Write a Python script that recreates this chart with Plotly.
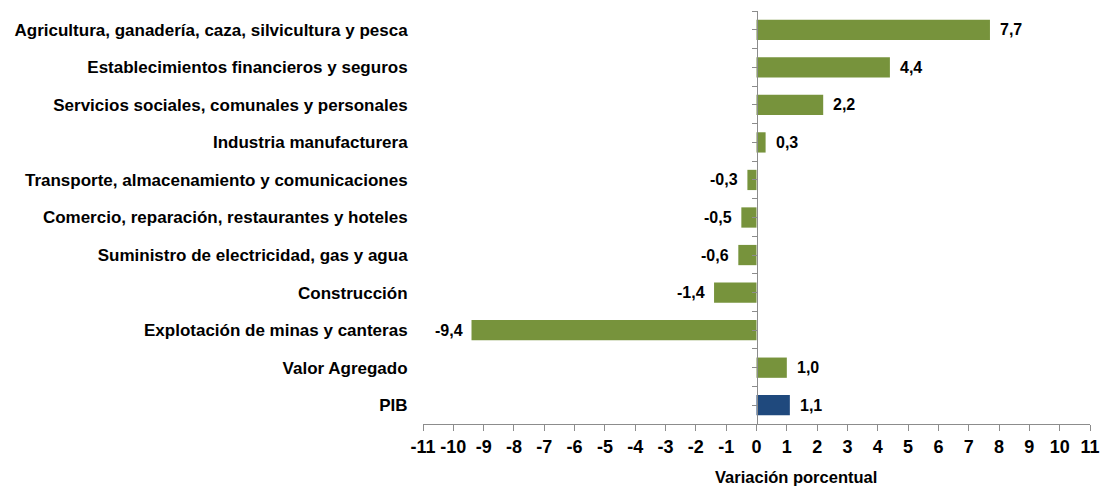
import plotly.graph_objects as go

categories = [
    "Agricultura, ganadería, caza, silvicultura y pesca",
    "Establecimientos financieros y seguros",
    "Servicios sociales, comunales y personales",
    "Industria manufacturera",
    "Transporte, almacenamiento y comunicaciones",
    "Comercio, reparación, restaurantes y hoteles",
    "Suministro de electricidad, gas y agua",
    "Construcción",
    "Explotación de minas y canteras",
    "Valor Agregado",
    "PIB",
]
values = [7.7, 4.4, 2.2, 0.3, -0.3, -0.5, -0.6, -1.4, -9.4, 1.0, 1.1]
colors = ["#77933C"] * 10 + ["#1F497D"]
x_ticks = list(range(-11, 12))
x_title = "Variación porcentual"

FONT = "Liberation Sans, Arial, sans-serif"
n = len(categories)

def fmt(v):
    return f"{v:.1f}".replace(".", ",")

fig = go.Figure()
fig.add_trace(go.Bar(
    x=values, y=categories, orientation="h",
    marker=dict(color=colors, line=dict(width=0)),
    hoverinfo="skip", showlegend=False,
))
# invisible trace to carry the tick axis drawn at zero
fig.add_trace(go.Scatter(
    x=[0, 0], y=[0, n], yaxis="y2", mode="lines",
    line=dict(color="rgba(0,0,0,0)", width=0),
    hoverinfo="skip", showlegend=False,
))

for c, v in zip(categories, values):
    fig.add_annotation(
        x=v, y=c, text=fmt(v), showarrow=False,
        xanchor="left" if v >= 0 else "right",
        xshift=8 if v >= 0 else -7,
        font=dict(family=FONT, size=16, color="black", weight="bold"),
    )

fig.add_annotation(
    xref="paper", yref="paper", x=0.5585, y=-0.128,
    xanchor="center", yanchor="middle", showarrow=False,
    text=x_title,
    font=dict(family=FONT, size=16.5, color="black", weight="bold"),
)

fig.update_layout(
    width=1103, height=486,
    margin=dict(l=423, r=13, t=11, b=62, autoexpand=False),
    paper_bgcolor="white", plot_bgcolor="white",
    bargap=0.46, barmode="overlay",
    font=dict(family=FONT, color="black"),
    xaxis=dict(
        range=[-11, 11], tickvals=x_ticks,
        ticktext=[str(t) for t in x_ticks],
        showgrid=False, zeroline=False,
        showline=True, linecolor="#8c8c8c", linewidth=1,
        ticks="outside", ticklen=6, tickcolor="#8c8c8c",
        tickfont=dict(family=FONT, size=18, color="black", weight="bold"),
        automargin=False, fixedrange=True,
    ),
    yaxis=dict(
        categoryorder="array", categoryarray=categories[::-1],
        showgrid=False, zeroline=False, showline=False,
        ticks="outside", ticklen=11, tickcolor="rgba(0,0,0,0)",
        tickfont=dict(family=FONT, size=17, color="black", weight="bold"),
        automargin=False, fixedrange=True,
    ),
    yaxis2=dict(
        overlaying="y", anchor="free", position=0.5, side="left",
        type="linear", range=[0, n],
        tickvals=[i / 2 for i in range(2 * n + 1)],
        showgrid=False, zeroline=False,
        showline=True, linecolor="#8c8c8c", linewidth=1,
        ticks="outside", ticklen=5, tickcolor="#8c8c8c",
        showticklabels=False, automargin=False, fixedrange=True,
    ),
)

fig.write_html(
    "out.html",
    config={"displayModeBar": False},
    post_script="document.body.style.margin='0';",
)
